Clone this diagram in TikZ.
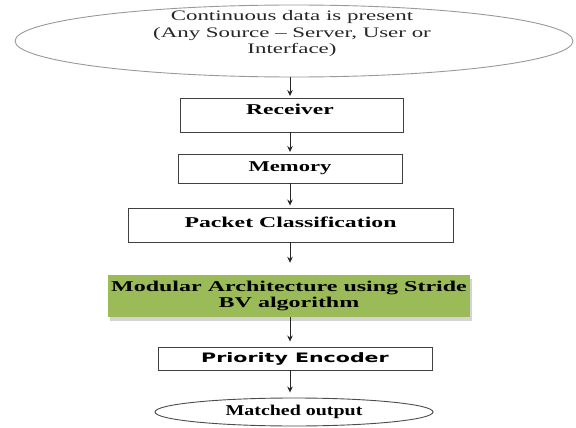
\documentclass[tikz,border=0pt]{standalone}
\usepackage{fontspec}
\usepackage{graphicx}
\setmainfont{Liberation Serif}
\newfontfamily\sansbold{DejaVu Sans}
\usetikzlibrary{arrows.meta,shapes.geometric,shadows}
\newcommand{\hs}[2]{\scalebox{#1}[1]{#2}}
\definecolor{boxgreen}{HTML}{9BBB59}
\tikzset{
  boxnode/.style={draw=black!75, fill=white, line width=0.9pt, inner sep=0pt,
    font=\bfseries\fontsize{15}{17}\selectfont,
    drop shadow={shadow xshift=1.2pt, shadow yshift=-1.2pt, opacity=0.35, fill=black!60}},
  flow/.style={draw=black!85, line width=1pt, -{Stealth[length=6pt,width=5.5pt]}},
}
\begin{document}
\begin{tikzpicture}[x=1pt,y=-1pt]
\useasboundingbox (0,0) rectangle (576,428);
% top ellipse
\node[ellipse, draw=black!40, line width=0.9pt, minimum width=558pt, minimum height=72pt,
      inner sep=0pt] (src) at (294,41) {};
\node[align=center, font=\fontsize{14.5}{16.5}\selectfont, text=black!85, inner sep=0pt] (srctext) at (292,34)
  {\hs{1.58}{Continuous data is present}\\ \hs{1.58}{(Any Source -- Server, User or}\\ \hs{1.58}{Interface)}};
% boxes
\node[boxnode, minimum width=223pt, minimum height=34pt] (rec) at (291.5,115) {};
\node[font=\bfseries\fontsize{15}{17}\selectfont, inner sep=0pt] (rectext) at (290,109) {\hs{1.57}{Receiver}};
\node[boxnode, minimum width=224pt, minimum height=29pt] (mem) at (290,168.5) {\hs{1.51}{Memory}};
\node[boxnode, minimum width=325pt, minimum height=34pt, text depth=6pt] (pkt) at (290.5,225) {\hs{1.585}{Packet Classification}};
\node[fill=boxgreen, inner sep=0pt, minimum width=362pt, minimum height=42pt, align=center,
      font=\bfseries\fontsize{15}{15.5}\selectfont,
      drop shadow={shadow xshift=1.5pt, shadow yshift=-4pt, opacity=0.35, fill=black!50}]
      (mod) at (289,296) {\hs{1.6}{Modular Architecture using Stride}\\ \hs{1.6}{BV algorithm}};
\node[boxnode, minimum width=274pt, minimum height=23pt, font=\sansbold\bfseries\fontsize{13}{15}\selectfont]
      (pri) at (295,358.5) {\hs{1.58}{Priority Encoder}};
\node[ellipse, draw=black!70, fill=white, line width=0.9pt, minimum width=278pt, minimum height=28pt, inner sep=0pt,
      font=\bfseries\fontsize{15}{17}\selectfont] (out) at (294,412) {\hs{1.33}{Matched output}};
% arrows
\draw[flow, shorten >=1.5pt] (src.south -| 290,0) -- (rec.north -| 290,0);
\draw[flow, shorten >=1.5pt] (rec.south -| 290,0) -- (mem.north -| 290,0);
\draw[flow, shorten >=2pt] (mem.south -| 290,0) -- (pkt.north -| 290,0);
\draw[flow, shorten >=12pt] (pkt.south -| 290,0) -- (mod.north -| 290,0);
\draw[flow, shorten >=5pt] (mod.south -| 290,0) -- (pri.north -| 290,0);
\draw[flow, shorten >=5pt] (pri.south -| 290,0) -- (out.north -| 290,0);
\end{tikzpicture}
\end{document}
